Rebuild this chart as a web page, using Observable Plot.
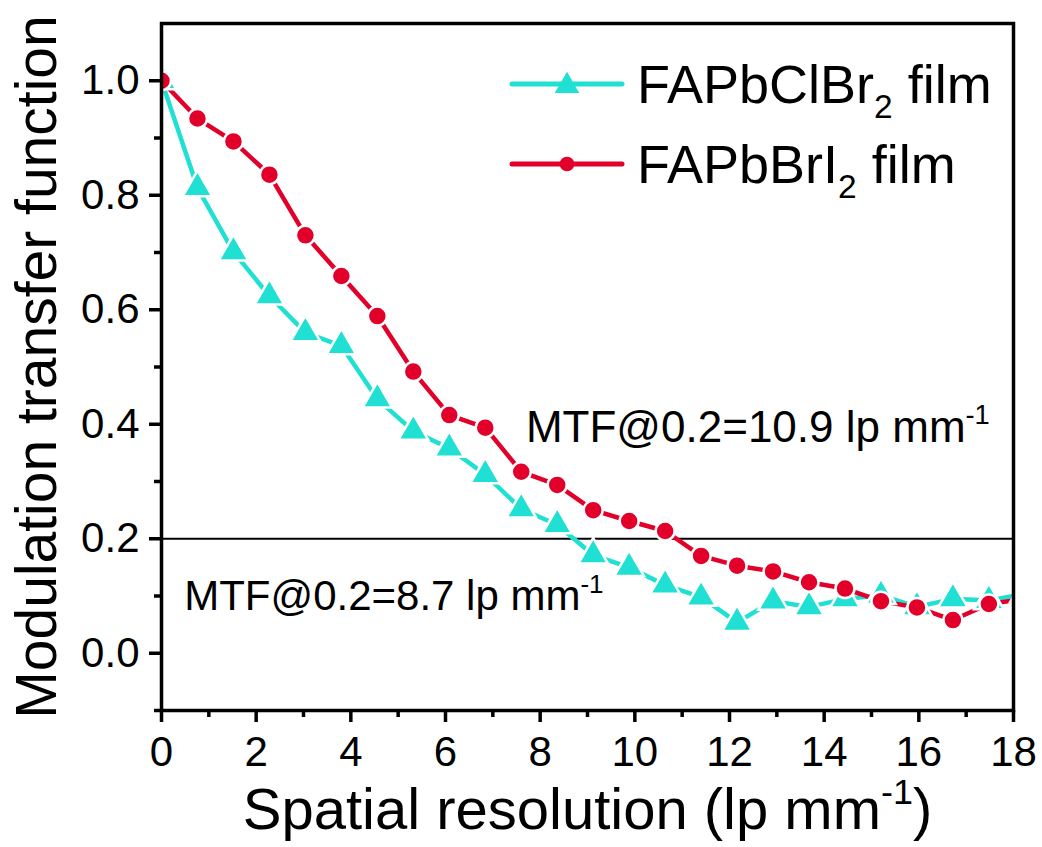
<!DOCTYPE html>
<html>
<head>
<meta charset="utf-8">
<script src="https://cdn.jsdelivr.net/npm/d3@7"></script>
<script src="https://cdn.jsdelivr.net/npm/@observablehq/plot@0.6"></script>
<style>
  html, body { margin: 0; padding: 0; background: #fff; }
  svg { font-family: "Liberation Sans", Arial, sans-serif; }
</style>
</head>
<body>
<div id="chart"></div>
<script>
// ---- data ----
const resolution = [0, 0.76, 1.52, 2.28, 3.04, 3.8, 4.56, 5.32, 6.08, 6.84, 7.6, 8.36, 9.12, 9.88, 10.64, 11.4, 12.16, 12.92, 13.68, 14.44, 15.2, 15.96, 16.72, 17.48, 18.24];
const mtfClBr2 = [1.0, 0.813, 0.701, 0.624, 0.560, 0.537, 0.444, 0.388, 0.358, 0.312, 0.252, 0.2245, 0.1716, 0.150, 0.119, 0.098, 0.054, 0.091, 0.081, 0.095, 0.101, 0.081, 0.095, 0.092, 0.104];
const mtfBrI2  = [1.0, 0.934, 0.894, 0.836, 0.730, 0.659, 0.589, 0.492, 0.416, 0.394, 0.317, 0.294, 0.250, 0.231, 0.2135, 0.170, 0.153, 0.143, 0.124, 0.113, 0.091, 0.080, 0.058, 0.086, 0.095];
const seriesNames = ["FAPbClBr_{2} film", "FAPbBrI_{2} film"];
const seriesColors = ["#1FE0D2", "#E2002B"];
const seriesSymbols = ["triangle", "circle"];
const xTicks = [0, 2, 4, 6, 8, 10, 12, 14, 16, 18];
const xMinorTicks = [1, 3, 5, 7, 9, 11, 13, 15, 17];
const yTicks = [0.0, 0.2, 0.4, 0.6, 0.8, 1.0];
const yMinorTicks = [-0.1, 0.1, 0.3, 0.5, 0.7, 0.9];
const threshold = 0.2;
const annotations = [
  {x: 7.70, y: 0.369, size: 44, text: "MTF@0.2=10.9 lp mm^{-1}"},
  {x: 0.48, y: 0.075, size: 42, text: "MTF@0.2=8.7 lp mm^{-1}"}
];
const xLabel = "Spatial resolution (lp mm^{-1})";
const yLabel = "Modulation transfer function";

// ---- build table ----
const rows = [];
[mtfClBr2, mtfBrI2].forEach((vals, s) => {
  vals.forEach((v, i) => rows.push({series: seriesNames[s], x: resolution[i], y: v}));
});

const W = 1042, H = 847;
const mL = 161, mR = 29, mT = 23, mB = 137;

const chart = Plot.plot({
  width: W, height: H,
  marginLeft: mL, marginRight: mR, marginTop: mT, marginBottom: mB,
  style: {fontFamily: '"Liberation Sans", Arial, sans-serif', background: "#fff", color: "#000"},
  x: {domain: [0, 18]},
  y: {domain: [-0.1, 1.1]},
  color: {domain: seriesNames, range: seriesColors},
  symbol: {domain: seriesNames, range: seriesSymbols},
  marks: [
    Plot.ruleY([threshold], {stroke: "#000", strokeWidth: 2}),
    Plot.line(rows, {x: "x", y: "y", z: "series", stroke: "series", strokeWidth: 4.5, clip: true}),
    Plot.dot(rows.filter(d => d.series === seriesNames[0]), {x: "x", y: "y", symbol: "series", fill: "series", stroke: "#fff", strokeWidth: 2.5, r: 11, clip: true}),
    Plot.dot(rows.filter(d => d.series === seriesNames[1]), {x: "x", y: "y", symbol: "series", fill: "series", stroke: "#fff", strokeWidth: 2.5, r: 9.5, clip: true}),
    Plot.text(annotations.slice(0, 1), {x: "x", y: "y", text: "text", textAnchor: "start", lineAnchor: "bottom", fontSize: 44, fill: "#000"}),
    Plot.text(annotations.slice(1), {x: "x", y: "y", text: "text", textAnchor: "start", lineAnchor: "bottom", fontSize: 42, fill: "#000"}),
    Plot.frame({stroke: "#000", strokeWidth: 3.5}),
    Plot.axisX({ticks: xTicks, tickSize: 12, tickPadding: 14, fontSize: 42, strokeWidth: 3.5, label: null, tickFormat: d => String(d)}),
    Plot.axisX({ticks: xMinorTicks, tickSize: 7, strokeWidth: 3.5, text: null, label: null}),
    Plot.axisY({ticks: yTicks, tickSize: 12, tickPadding: 10, fontSize: 42, strokeWidth: 3.5, label: null, tickFormat: d3.format(".1f")}),
    Plot.axisY({ticks: yMinorTicks, tickSize: 7, strokeWidth: 3.5, text: null, label: null}),
    Plot.text([xLabel], {frameAnchor: "bottom", dy: 118, lineAnchor: "bottom", textAnchor: "middle", fontSize: 58, fill: "#000"}),
    Plot.text([yLabel], {frameAnchor: "left", rotate: -90, dx: -106, lineAnchor: "bottom", textAnchor: "middle", fontSize: 57, fill: "#000"})
  ]
});

document.getElementById("chart").appendChild(chart);

// ---- rich text: ^{..} superscript, _{..} subscript ----
function richify(el) {
  const s = el.textContent;
  if (!/[\^_]\{/.test(s)) return;
  const fs = parseFloat(getComputedStyle(el).fontSize) || 40;
  el.textContent = "";
  const re = /([\^_])\{([^}]*)\}/g;
  let last = 0, m, shift = 0;
  const add = (txt, dy, small) => {
    const t = document.createElementNS("http://www.w3.org/2000/svg", "tspan");
    t.textContent = txt;
    if (dy) t.setAttribute("dy", dy);
    if (small) t.setAttribute("font-size", fs * 0.62);
    el.appendChild(t);
  };
  while ((m = re.exec(s))) {
    if (m.index > last) add(s.slice(last, m.index), shift ? -shift : 0, false);
    shift = 0;
    const off = m[1] === "^" ? -fs * 0.42 : fs * 0.28;
    add(m[2], off, true);
    shift = off;
    last = re.lastIndex;
  }
  if (last < s.length) add(s.slice(last), shift ? -shift : 0, false);
}
d3.select(chart).selectAll("text").each(function() { richify(this); });

// ---- legend (inside plot, top right) ----
const svg = d3.select(chart);
const leg = svg.append("g").attr("text-anchor", "start");
const legendRows = [84, 164];
seriesNames.forEach((name, i) => {
  const yy = legendRows[i];
  leg.append("line").attr("x1", 512).attr("x2", 622).attr("y1", yy).attr("y2", yy)
    .attr("stroke", seriesColors[i]).attr("stroke-width", 5).attr("stroke-linecap", "round");
  const sym = d3.symbol(i === 0 ? d3.symbolTriangle : d3.symbolCircle, i === 0 ? 260 : 170);
  leg.append("path").attr("d", sym()).attr("transform", `translate(567,${yy + (i === 0 ? 2 : 0)})`)
    .attr("fill", seriesColors[i]);
  const t = leg.append("text").attr("x", 637).attr("y", yy + 19).attr("text-anchor", "start")
    .attr("font-size", 54).attr("fill", "#000").text(name);
  richify(t.node());
});
</script>
</body>
</html>
